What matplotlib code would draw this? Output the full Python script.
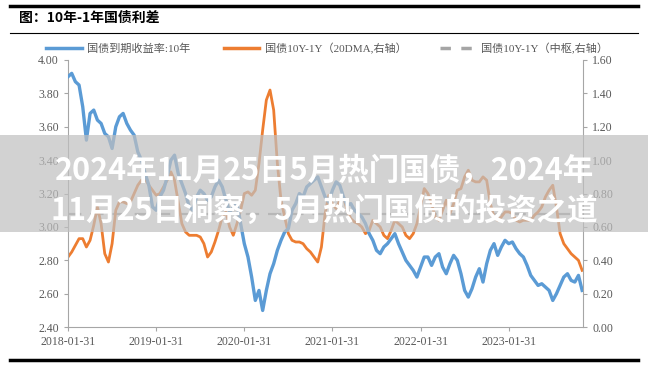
import numpy as np
import pandas as pd
import matplotlib
matplotlib.use('Agg')
import matplotlib.pyplot as plt
import matplotlib.dates as mdates
from matplotlib.patches import Rectangle
from matplotlib.lines import Line2D

plt.rcParams['font.family'] = ['Noto Sans CJK SC', 'DejaVu Sans']

# semi-monthly samples from 2018-01-31
n_points = 141
start = pd.Timestamp('2018-01-31')
dates = start + pd.to_timedelta(np.arange(n_points) * 365.25 / 24, unit='D')

yield_10y = [
    3.90, 3.92, 3.87, 3.85, 3.72, 3.52, 3.68, 3.70, 3.64, 3.62,
    3.56, 3.54, 3.47, 3.60, 3.66, 3.68, 3.62, 3.58, 3.55, 3.45,
    3.40, 3.32, 3.25, 3.12, 3.10, 3.18, 3.22, 3.30, 3.40, 3.43,
    3.32, 3.26, 3.20, 3.12, 3.10, 3.18, 3.22, 3.20, 3.16, 3.18,
    3.24, 3.28, 3.24, 3.16, 3.09, 3.12, 3.14, 3.02, 2.90, 2.82,
    2.70, 2.56, 2.62, 2.50, 2.62, 2.72, 2.78, 2.86, 2.92, 2.97,
    2.99, 3.10, 3.14, 3.20, 3.18, 3.24, 3.26, 3.28, 3.30, 3.24,
    3.18, 3.15, 3.22, 3.27, 3.25, 3.18, 3.13, 3.14, 3.10, 3.08,
    3.06, 3.02, 2.96, 2.92, 2.86, 2.84, 2.88, 2.90, 2.93, 2.96,
    2.90, 2.85, 2.80, 2.77, 2.74, 2.70, 2.76, 2.82, 2.82, 2.77,
    2.82, 2.84, 2.76, 2.72, 2.78, 2.83, 2.80, 2.72, 2.62, 2.58,
    2.63, 2.70, 2.75, 2.67, 2.78, 2.86, 2.90, 2.83, 2.88, 2.92,
    2.90, 2.91, 2.87, 2.84, 2.82, 2.77, 2.71, 2.68, 2.65, 2.66,
    2.64, 2.62, 2.56, 2.60, 2.65, 2.70, 2.72, 2.68, 2.67, 2.71,
    2.62,
]

spread_20dma = [
    0.42, 0.45, 0.49, 0.53, 0.53, 0.48, 0.52, 0.61, 0.72, 0.62,
    0.44, 0.39, 0.50, 0.70, 0.75, 0.75, 0.74, 0.75, 0.80, 0.85,
    0.88, 0.89, 0.85, 0.82, 0.79, 0.80, 0.84, 0.88, 0.93, 0.88,
    0.75, 0.62, 0.57, 0.55, 0.55, 0.55, 0.54, 0.50, 0.42, 0.45,
    0.51, 0.58, 0.66, 0.69, 0.60, 0.55, 0.62, 0.70, 0.80, 0.81,
    0.79, 0.82, 0.98, 1.18, 1.36, 1.42, 1.30, 0.98, 0.76, 0.66,
    0.56, 0.52, 0.51, 0.51, 0.50, 0.47, 0.45, 0.42, 0.39, 0.48,
    0.68, 0.79, 0.74, 0.71, 0.76, 0.78, 0.70, 0.65, 0.63, 0.62,
    0.60, 0.56, 0.58, 0.64, 0.62, 0.60, 0.55, 0.53, 0.58, 0.64,
    0.62, 0.60, 0.55, 0.53, 0.56, 0.62, 0.72, 0.83, 0.80, 0.74,
    0.66, 0.64, 0.70, 0.76, 0.68, 0.74, 0.82, 0.83, 0.90, 0.94,
    0.88, 0.87, 0.87, 0.90, 0.88, 0.74, 0.66, 0.64, 0.66, 0.69,
    0.69, 0.68, 0.64, 0.63, 0.64, 0.64, 0.64, 0.67, 0.69, 0.72,
    0.78, 0.82, 0.85, 0.72, 0.56, 0.50, 0.47, 0.44, 0.42, 0.40,
    0.34,
]

spread_center = 0.68

tick_dates = ['2018-01-31', '2019-01-31', '2020-01-31',
              '2021-01-31', '2022-01-31', '2023-01-31']

legend_labels = ['国债到期收益率:10年', '国债10Y-1Y（20DMA,右轴）', '国债10Y-1Y（中枢,右轴）']
title = '图：10年-1年国债利差'
banner = ['2024年11月25日5月热门国债，2024年', '11月25日洞察，5月热门国债的投资之道']

blue = '#5b9bd5'
orange = '#ed7d31'
grey = '#a5a5a5'
axis_grey = '#a6a6a6'
text_grey = '#595959'
serif = ['Liberation Serif', 'Noto Sans CJK SC']

fig = plt.figure(figsize=(6.48, 3.68), dpi=100)
ax = fig.add_axes([0.105, 0.111, 0.795, 0.726])
ax2 = ax.twinx()

ax.plot(dates, yield_10y, color=blue, lw=2.4, zorder=3)
ax2.plot(dates, spread_20dma, color=orange, lw=2.0, zorder=2)
ax2.plot([dates[0], dates[-1]], [spread_center, spread_center],
         color=grey, lw=1.6, dashes=(6, 4), zorder=1)

ax.set_zorder(ax2.get_zorder() + 1)
ax.patch.set_visible(False)

ax.set_ylim(2.4, 4.0)
ax.set_yticks(np.arange(2.4, 4.01, 0.2))
ax.yaxis.set_major_formatter(matplotlib.ticker.FormatStrFormatter('%.2f'))
ax2.set_ylim(0, 1.6)
ax2.set_yticks(np.arange(0, 1.61, 0.2))
ax2.yaxis.set_major_formatter(matplotlib.ticker.FormatStrFormatter('%.2f'))

ax.set_xlim(pd.Timestamp('2018-01-31'), pd.Timestamp('2023-12-06'))
ax.set_xticks(pd.to_datetime(tick_dates))
ax.xaxis.set_major_formatter(mdates.DateFormatter('%Y-%m-%d'))

for a in (ax, ax2):
    for s in a.spines.values():
        s.set_color(axis_grey)
        s.set_linewidth(0.8)
    a.spines['top'].set_visible(False)
    a.tick_params(colors=axis_grey, labelcolor=text_grey, labelsize=8.5,
                  length=3, width=0.8)
    for lab in a.get_xticklabels() + a.get_yticklabels():
        lab.set_family(serif)
ax.spines['right'].set_visible(False)
ax2.spines['left'].set_visible(False)
ax2.spines['bottom'].set_visible(False)

# legend
handles = [Line2D([], [], color=blue, lw=2.5),
           Line2D([], [], color=orange, lw=2.5),
           Line2D([], [], color=grey, lw=2.5, dashes=(3, 3))]
fig.legend(handles, legend_labels, loc='center', bbox_to_anchor=(0.505, 0.868),
           ncol=3, frameon=False, handlelength=3.2,
           columnspacing=3.0, handletextpad=0.5, labelcolor=text_grey,
           prop={'family': serif, 'size': 8})

# header
fig.add_artist(Line2D([0.015, 0.985], [0.985, 0.985], color='black', lw=2.5,
                      transform=fig.transFigure))
fig.add_artist(Line2D([0.015, 0.985], [0.91, 0.91], color='black', lw=0.8,
                      transform=fig.transFigure))
fig.add_artist(Line2D([0.015, 0.985], [0.022, 0.022], color='black', lw=2.5,
                      transform=fig.transFigure))
fig.text(0.03, 0.952, title, fontsize=10, fontweight='bold', va='center',
         ha='left', color='black')

# banner overlay
fig.add_artist(Rectangle((0, 0.37), 1, 0.263, transform=fig.transFigure,
                         facecolor='#c0c0c0', alpha=0.7, edgecolor='none',
                         zorder=10))
fig.text(0.5, 0.535, banner[0], fontsize=22, fontweight='black', color='white',
         ha='center', va='center', zorder=11)
fig.text(0.5, 0.427, banner[1], fontsize=22, fontweight='black', color='white',
         ha='center', va='center', zorder=11)

fig.savefig('out.png', dpi=100)
